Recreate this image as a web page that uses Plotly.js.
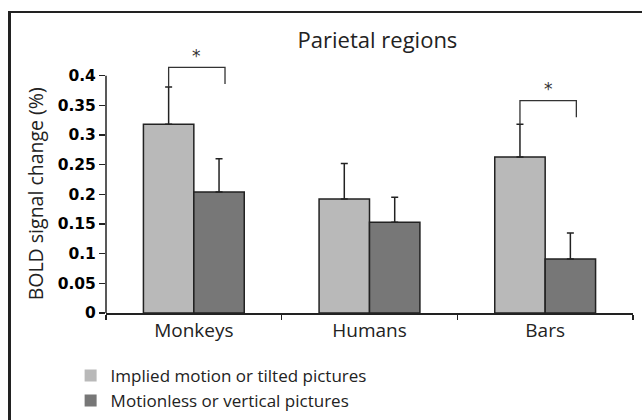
<!DOCTYPE html>
<html>
<head>
<meta charset="utf-8">
<script src="https://cdn.plot.ly/plotly-3.0.1.min.js"></script>
<style>
  html, body { margin: 0; padding: 0; background: #fff; }
  #wrap { position: relative; width: 642px; height: 420px; overflow: hidden; }
  #chart { width: 642px; height: 420px; }
  #frame { position: absolute; left: 8px; top: 11px; width: 700px; height: 500px;
           border-left: 3px solid #222; border-top: 2.5px solid #222; pointer-events: none; }
</style>
</head>
<body>
<div id="wrap">
  <div id="chart"></div>
  <div id="frame"></div>
</div>
<script>
// ---- data ----
var categories = ["Monkeys", "Humans", "Bars"];
var impliedMean = [0.318, 0.192, 0.263];
var impliedErr  = [0.063, 0.060, 0.055];
var motionlessMean = [0.204, 0.153, 0.091];
var motionlessErr  = [0.056, 0.042, 0.044];
var seriesNames = ["Implied motion or tilted pictures", "Motionless or vertical pictures"];
var yTickVals = [0, 0.05, 0.1, 0.15, 0.2, 0.25, 0.3, 0.35, 0.4];
var yTickText = ["0", "0.05", "0.1", "0.15", "0.2", "0.25", "0.3", "0.35", "0.4"];
// significance brackets: category index and bracket height
var sigIndex = [0, 2];
var sigHeight = [0.414, 0.358];

var lightColor = "#b9b9b9";
var darkColor = "#777777";
var edge = "#222222";
var barOffset = 0.1435; // half of one bar width in category units

var zeros = categories.map(function () { return 0; });

var traces = [
  {
    type: "bar", x: categories, y: impliedMean, name: seriesNames[0],
    offsetgroup: "a", showlegend: false,
    marker: { color: lightColor, line: { color: edge, width: 1.5 } },
    error_y: { type: "data", symmetric: false, array: impliedErr, arrayminus: zeros,
               color: edge, thickness: 1.5, width: 3.5 }
  },
  {
    type: "bar", x: categories, y: motionlessMean, name: seriesNames[1],
    offsetgroup: "b", showlegend: false,
    marker: { color: darkColor, line: { color: edge, width: 1.5 } },
    error_y: { type: "data", symmetric: false, array: motionlessErr, arrayminus: zeros,
               color: edge, thickness: 1.5, width: 3.5 }
  },
  // legend entries (borderless swatches, as in the reference)
  { type: "bar", x: [null], y: [null], name: seriesNames[0], offsetgroup: "a",
    marker: { color: lightColor, line: { width: 0 } } },
  { type: "bar", x: [null], y: [null], name: seriesNames[1], offsetgroup: "b",
    marker: { color: darkColor, line: { width: 0 } } }
];

var shapes = [
  // y axis line (only up to 0.4)
  { type: "line", xref: "paper", yref: "y", x0: 0, x1: 0, y0: 0, y1: yTickVals[yTickVals.length - 1],
    line: { color: edge, width: 1.5 } }
];
var annotations = [
  { text: "BOLD signal change (%)", xref: "paper", yref: "y", x: 0, y: 0.2,
    xanchor: "center", yanchor: "middle", xshift: -71, textangle: -90, showarrow: false,
    font: { family: "Open Sans", size: 19.5, color: "#222" } }
];
sigIndex.forEach(function (ci, k) {
  var xl = ci - barOffset;
  var xr = ci + barOffset + 0.034;
  var top = sigHeight[k];
  var leftBottom = impliedMean[ci] + impliedErr[ci];
  var rightBottom = top - 0.028;
  shapes.push({ type: "path", xref: "x", yref: "y",
    path: "M" + xl + "," + leftBottom + " L" + xl + "," + top + " L" + xr + "," + top + " L" + xr + "," + rightBottom,
    line: { color: "#333", width: 1.3 } });
  annotations.push({ text: "*", xref: "x", yref: "y", x: (xl + xr) / 2, y: top + 0.019,
    showarrow: false, xanchor: "center", yanchor: "middle",
    font: { family: "DejaVu Sans", size: 17, color: "#333" } });
});

var layout = {
  width: 642, height: 420,
  margin: { l: 106, r: 9, t: 46, b: 107, autoexpand: false },
  paper_bgcolor: "#fff", plot_bgcolor: "#fff",
  showlegend: true,
  title: { text: "Parietal regions", x: 0.588, xanchor: "center", xref: "container",
           y: 0.905, yanchor: "middle", yref: "container",
           font: { family: "Open Sans", size: 22, color: "#222" } },
  barmode: "group", bargap: 0.426, bargroupgap: 0,
  xaxis: {
    type: "category", showgrid: false, zeroline: false,
    showline: true, linecolor: edge, linewidth: 1.5,
    ticks: "outside", tickson: "boundaries", ticklen: 5, tickcolor: edge, tickwidth: 1.5,
    tickfont: { family: "Open Sans", size: 19, color: "#222" }
  },
  yaxis: {
    range: [0, 0.45], showgrid: false, zeroline: false, showline: false,
    tickmode: "array", tickvals: yTickVals, ticktext: yTickText,
    ticks: "outside", ticklen: 6, tickcolor: edge, tickwidth: 1.5,
    tickfont: { family: "DejaVu Sans", size: 15.5, color: "#000", weight: "bold" }
  },
  legend: {
    x: 0.11, xref: "container", xanchor: "left",
    y: 0.148, yref: "container", yanchor: "top",
    font: { family: "Open Sans", size: 17, color: "#222" },
    bgcolor: "rgba(0,0,0,0)", tracegroupgap: 0
  },
  shapes: shapes,
  annotations: annotations
};

Plotly.newPlot("chart", traces, layout, { displayModeBar: false, staticPlot: true });
</script>
</body>
</html>
